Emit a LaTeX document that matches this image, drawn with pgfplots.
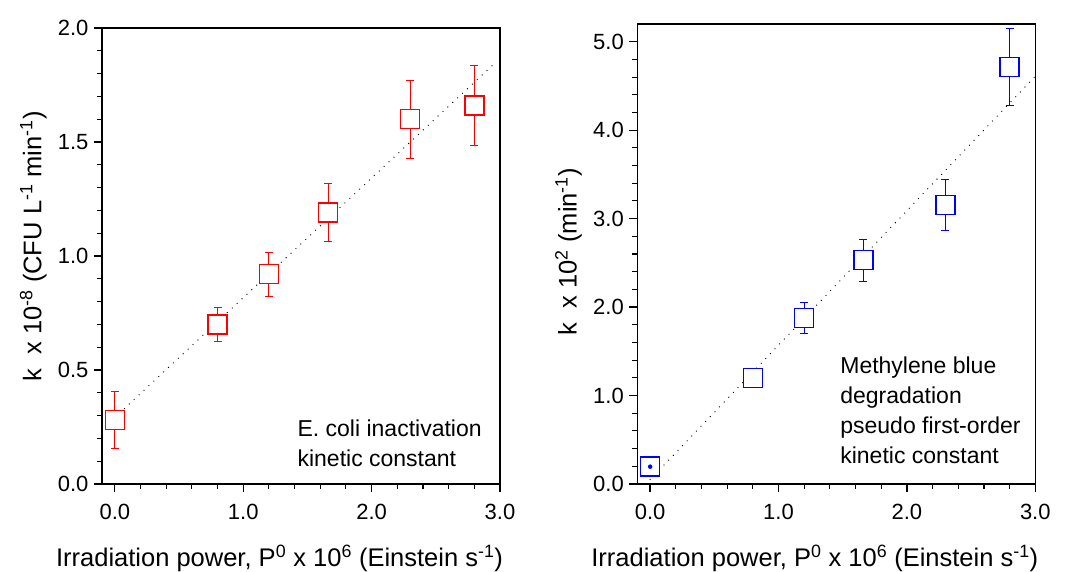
\documentclass[border=0pt]{standalone}
\usepackage{fontspec}
\setmainfont{Liberation Sans}
\usepackage{pgfplots}
\pgfplotsset{compat=1.18}

\pgfplotsset{
  mystyle/.style={
    scale only axis,
    width=398pt,
    xmin=-0.1, xmax=3.0,
    ymin=0,
    xtick={0,1,2,3},
    minor x tick num=4,
    minor y tick num=4,
    tick align=outside,
    tick pos=left,
    major tick length=8pt,
    minor tick length=5pt,
    axis line style={line width=1.5pt, black},
    every tick/.style={line width=1.3pt, black},
    every minor tick/.style={line width=1.1pt, black},
    /pgf/number format/assume math mode=true,
    xticklabel style={yshift=-9pt, /pgf/number format/.cd, fixed, fixed zerofill, precision=1},
    yticklabel style={xshift=-2pt, /pgf/number format/.cd, fixed, fixed zerofill, precision=1},
    tick label style={font=\fontsize{22}{26}\selectfont},
    label style={font=\fontsize{25.5}{30}\selectfont},
    xlabel style={at={([yshift=-82.7pt]axis description cs:0.446,0)}, anchor=base},
    clip=false,
  }
}

\begin{document}
\begin{tikzpicture}
\path[use as bounding box] (0,0) rectangle (1071pt,571pt);

% Left panel
\begin{axis}[mystyle,
  at={(102pt,87pt)}, anchor=south west,
  height=456pt,
  ymax=2.0,
  ytick={0,0.5,1.0,1.5,2.0},
  xlabel={Irradiation power, P\textsuperscript{0} x 10\textsuperscript{6} (Einstein s\textsuperscript{-1})},
  ylabel={k\ \ x 10\textsuperscript{-8} (CFU L\textsuperscript{-1} min\textsuperscript{-1})},
  ylabel style={at={([xshift=-60.5pt]axis description cs:0,0.521)}, anchor=base},
]
\addplot[red, only marks, mark=none,
  error bars/.cd, y dir=both, y explicit,
  error bar style={line width=0.9pt, red},
  error mark options={rotate=90, mark size=4pt, line width=0.9pt, red}]
  coordinates {
  (0.0,0.28) +- (0,0.125)
  (0.8,0.70) +- (0,0.074)
  (1.2,0.92) +- (0,0.097)
  (1.66,1.19) +- (0,0.127)
  (2.3,1.60) +- (0,0.17)
  (2.8,1.66) +- (0,0.177)
};
\addplot[red, only marks, mark=square*, mark size=9.5pt,
  mark options={fill=white, draw=red, line width=1.5pt}]
  coordinates {
  (0.0,0.28) (0.8,0.70) (1.2,0.92) (1.66,1.19) (2.3,1.60) (2.8,1.66)
};
\addplot[black, line width=1.3pt, dash pattern=on 0pt off 6.7pt, line cap=round]
  coordinates {(-0.04,0.271) (2.96,1.846)};
\node[anchor=base west, align=left, font=\fontsize{23}{30}\selectfont]
  at (axis cs:1.396,0.076) {E. coli inactivation\\kinetic constant};
\end{axis}

% Right panel
\begin{axis}[mystyle,
  at={(637.3pt,87pt)}, anchor=south west,
  height=460pt,
  ymax=5.2,
  ytick={0,1,2,3,4,5},
  xlabel={Irradiation power, P\textsuperscript{0} x 10\textsuperscript{6} (Einstein s\textsuperscript{-1})},
  ylabel={k\ \ x 10\textsuperscript{2} (min\textsuperscript{-1})},
  ylabel style={at={([xshift=-60.6pt]axis description cs:0,0.505)}, anchor=base},
]
\addplot[blue, only marks, mark=square*, mark size=9.5pt,
  mark options={fill=white, draw=blue, line width=1.5pt}]
  coordinates {(0.0,0.196)};
\addplot[blue, only marks, mark=none,
  error bars/.cd, y dir=both, y explicit,
  error bar style={line width=0.9pt, blue},
  error mark options={rotate=90, mark size=4pt, line width=0.9pt, blue}]
  coordinates {
  (0.0,0.196) +- (0,0.045)
  (0.8,1.20) +- (0,0.05)
  (1.2,1.877) +- (0,0.17)
  (1.66,2.53) +- (0,0.235)
  (2.3,3.154) +- (0,0.29)
  (2.8,4.714) +- (0,0.44)
};
\addplot[blue, only marks, mark=square*, mark size=9.5pt,
  mark options={fill=white, draw=blue, line width=1.5pt}]
  coordinates {
  (0.8,1.20) (1.2,1.877) (1.66,2.53) (2.3,3.154) (2.8,4.714)
};
\addplot[black, line width=1.3pt, dash pattern=on 0pt off 6.7pt, line cap=round]
  coordinates {(0.0,0.05) (3.0,4.61)};
\node[anchor=base west, align=left, font=\fontsize{23}{30}\selectfont]
  at (axis cs:1.454,0.234) {Methylene blue\\degradation\\pseudo first-order\\kinetic constant};
\end{axis}
\end{tikzpicture}
\end{document}
